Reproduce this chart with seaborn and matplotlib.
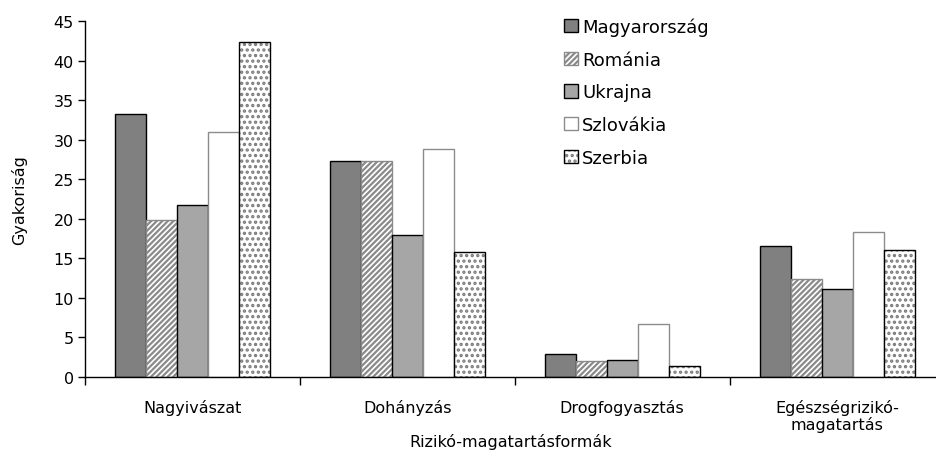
import pandas as pd
import numpy as np
import matplotlib
matplotlib.use('Agg')
import matplotlib.pyplot as plt
import seaborn as sns
from matplotlib.colors import to_rgba

# data
categories = ['Nagyivászat', 'Dohányzás', 'Drogfogyasztás', 'Egészségrizikó-\nmagatartás']
countries = ['Magyarország', 'Románia', 'Ukrajna', 'Szlovákia', 'Szerbia']
magyarorszag = [33.3, 27.3, 2.9, 16.6]
romania = [19.8, 27.3, 2.0, 12.4]
ukrajna = [21.8, 18.0, 2.2, 11.1]
szlovakia = [31.0, 28.8, 6.7, 18.3]
szerbia = [42.3, 15.8, 1.4, 16.1]

series = [magyarorszag, romania, ukrajna, szlovakia, szerbia]
rows = []
for name, vals in zip(countries, series):
    for cat, v in zip(categories, vals):
        rows.append({'cat': cat, 'country': name, 'value': v})
df = pd.DataFrame(rows)

sns.set_style('white')
plt.rcParams['font.family'] = ['DejaVu Sans']
plt.rcParams['text.color'] = 'black'
plt.rcParams['xtick.color'] = 'black'
plt.rcParams['ytick.color'] = 'black'
plt.rcParams['axes.labelcolor'] = 'black'
plt.rcParams['hatch.linewidth'] = 1.6

fig = plt.figure(figsize=(9.36, 4.52), dpi=100)
ax = fig.add_axes([85 / 936, 1 - 378 / 452, 1 - 85 / 936, (378 - 22) / 452])

sns.barplot(data=df, x='cat', y='value', hue='country', order=categories,
            hue_order=countries, width=0.72, gap=0, ax=ax, errorbar=None,
            palette=['#808080'] * 5, saturation=1)

# styling per series: face, edge, hatch, hatch colour
styles = [
    ('#808080', '#000000', None, None),
    ('#ffffff', '#8a8a8a', '//////', '#8a8a8a'),
    ('#a6a6a6', '#000000', None, None),
    ('#ffffff', '#8c8c8c', None, None),
    ('#ffffff', '#000000', '...', '#7a7a7a'),
]


def style_patch(p, st):
    fc, ec, hatch, hc = st
    p.set_facecolor(fc)
    p.set_edgecolor(ec)
    p.set_linewidth(1.0)
    if hatch:
        p.set_hatch(hatch)
        p._hatch_color = to_rgba(hc)


for cont, st in zip(ax.containers, styles):
    for bar in cont:
        style_patch(bar, st)

ax.set_ylim(0, 45)
ax.set_yticks(range(0, 46, 5))
ax.set_xlim(-0.5, 3.46)
ax.set_xticks(range(4))
ax.set_xticks([-0.5, 0.5, 1.5, 2.5], minor=True)
ax.tick_params(axis='x', which='major', length=0, pad=16, labelsize=11.5)
ax.tick_params(axis='x', which='minor', length=6, width=1, color='black', direction='out', bottom=True)
ax.tick_params(axis='y', length=5, width=1, color='black', direction='out', left=True, labelsize=11.5, pad=3)
for lab in ax.get_xticklabels():
    lab.set_linespacing(1.05)

for s in ['top', 'right']:
    ax.spines[s].set_visible(False)
for s in ['left', 'bottom']:
    ax.spines[s].set_color('black')
    ax.spines[s].set_linewidth(1.0)

ax.set_xlabel('Rizikó-magatartásformák', fontsize=11.5, labelpad=1)
ax.set_ylabel('Gyakoriság', fontsize=11.5, labelpad=19)

handles, labels = ax.get_legend_handles_labels()
leg = ax.legend(handles, labels, loc='upper left', bbox_to_anchor=(548 / 936, 1 - 2 / 452),
                bbox_transform=fig.transFigure, frameon=False, fontsize=13,
                handlelength=0.75, handleheight=0.75, handletextpad=0.25, labelspacing=0.82)
for h, st in zip(leg.get_patches(), styles):
    style_patch(h, st)

fig.savefig('out.png', dpi=100)
